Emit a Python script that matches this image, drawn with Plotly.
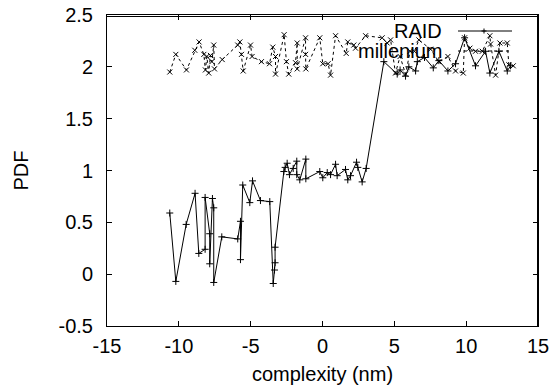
import plotly.graph_objects as go

# RAID series (solid line, + markers)
raid_x = [-10.63, -10.21, -9.49, -8.87, -8.61, -8.17, -8.17, -7.85, -7.85, -7.66, -7.57, -7.57,
          -7.01, -5.90, -5.71, -5.71, -5.55, -5.06, -4.87, -4.32, -3.67, -3.43, -3.34, -3.30, -3.30,
          -2.69, -2.60, -2.46, -2.30, -2.04, -1.79, -1.79, -1.58, -1.16, -1.16, -0.19, 0.02, 0.33,
          0.56, 0.91, 1.02, 1.60, 1.76, 1.95, 2.37, 2.46, 2.76, 3.04,
          4.27, 5.20, 5.40, 5.78, 6.01, 6.48, 6.60, 7.10, 7.71, 8.10, 8.73, 9.26, 9.89, 10.65,
          11.35, 11.65, 12.28, 12.86, 13.09]
raid_y = [0.59, -0.07, 0.48, 0.78, 0.20, 0.24, 0.74, 0.39, 0.10, 0.73, 0.64, -0.08,
          0.36, 0.34, 0.51, 0.14, 0.86, 0.69, 0.90, 0.71, 0.70, -0.09, 0.04, 0.11, 0.26,
          0.99, 1.03, 1.07, 0.96, 1.02, 1.09, 0.96, 0.91, 1.11, 0.92, 0.99, 0.93, 0.98,
          0.96, 1.06, 0.95, 1.01, 0.91, 0.95, 1.08, 1.03, 0.89, 1.02,
          2.05, 1.93, 1.97, 1.91, 2.00, 1.96, 2.05, 2.09, 1.99, 2.06, 1.96, 2.03, 2.28, 2.01,
          2.15, 1.94, 2.15, 1.96, 2.01]

# millenium series (dashed line, x markers)
mill_x = [-10.63, -10.21, -9.47, -8.89, -8.59, -8.26, -8.15, -8.05, -7.92, -7.80, -7.70, -7.57,
          -7.52, -6.98, -5.90, -5.75, -5.64, -5.52, -5.01, -4.90, -4.25, -3.69, -3.46, -3.27,
          -3.27, -2.67, -2.51, -2.35, -1.88, -1.76, -1.76, -1.18, -1.18, -1.16, -0.19, 0.02,
          0.39, 0.56, 0.91, 1.65, 1.76, 2.18, 2.30, 3.00, 4.15, 4.50, 4.74, 5.08, 5.40, 5.78,
          6.10, 6.40, 6.71, 7.52, 8.10, 8.73, 9.26, 9.80, 9.89, 10.26, 10.65, 11.12, 11.65,
          11.70, 12.05, 12.35, 12.86, 12.97, 13.28]
mill_y = [1.95, 2.12, 1.97, 2.16, 2.24, 2.12, 1.97, 2.10, 1.94, 2.11, 2.05, 2.21,
          1.98, 2.07, 2.21, 2.24, 2.12, 1.96, 2.21, 2.10, 2.05, 2.03, 2.19, 2.10,
          1.93, 2.31, 2.05, 1.93, 2.04, 2.23, 1.98, 2.28, 2.12, 1.98, 2.28, 2.03,
          2.03, 1.92, 2.30, 2.13, 2.24, 2.21, 2.18, 2.30, 2.28, 2.23, 2.26, 1.94, 2.10, 1.93,
          2.15, 2.15, 2.26, 2.17, 2.05, 2.10, 1.96, 1.94, 2.28, 2.18, 2.15, 2.15, 2.30,
          2.22, 1.92, 2.23, 2.23, 2.02, 2.01]

x_ticks = [-15, -10, -5, 0, 5, 10, 15]
y_ticks = [-0.5, 0, 0.5, 1, 1.5, 2, 2.5]
x_range = [-15, 15]
y_range = [-0.5, 2.5]
series_names = ["RAID", "millenium"]

FONT = "Liberation Sans, Arial, sans-serif"
FS = 20

fig = go.Figure()
fig.add_trace(go.Scatter(x=raid_x, y=raid_y, mode="lines+markers",
                         line=dict(color="black", width=1),
                         marker=dict(symbol="cross-thin", size=5, line=dict(color="black", width=1)),
                         showlegend=False))
fig.add_trace(go.Scatter(x=mill_x, y=mill_y, mode="lines+markers",
                         line=dict(color="black", width=1, dash="3px,3px"),
                         marker=dict(symbol="x-thin", size=5, line=dict(color="black", width=1)),
                         showlegend=False))

# plot area on screen: x 107..538, y 15..326
W, H, L, B = 431, 311, 107, 326
def px(xp):
    return (xp - L) / W
def py(yp):
    return (B - yp) / H

# top and right frame edges, drawn just inside the plot area
fig.add_shape(type="line", xref="paper", yref="paper", x0=0, x1=1, y0=py(16.5), y1=py(16.5),
              line=dict(color="black", width=1), layer="above")
fig.add_shape(type="line", xref="paper", yref="paper", x0=px(537.5), x1=px(537.5), y0=0, y1=1,
              line=dict(color="black", width=1), layer="above")

# gnuplot-style key: text on the left, sample on the right
key_y = [py(31), py(51)]
dashes = [None, "dash"]
for name, yy, dsh in zip(series_names, key_y, dashes):
    fig.add_annotation(x=px(444), y=yy, xref="paper", yref="paper", text=name,
                       showarrow=False, xanchor="right", yanchor="middle",
                       font=dict(family=FONT, size=FS, color="black"))
    ln = dict(color="black", width=1)
    if dsh:
        ln["dash"] = "3px,3px"
    fig.add_shape(type="line", xref="paper", yref="paper", x0=px(458), x1=px(512),
                  y0=yy, y1=yy, line=ln)
# small + on the RAID key sample
fig.add_shape(type="line", xref="paper", yref="paper", x0=px(481.5), x1=px(486.5),
              y0=key_y[0], y1=key_y[0], line=dict(color="black", width=1))
fig.add_shape(type="line", xref="paper", yref="paper", x0=px(484), x1=px(484),
              y0=key_y[0] - 2.5 / H, y1=key_y[0] + 2.5 / H, line=dict(color="black", width=1))

axis_common = dict(showgrid=False, zeroline=False, showline=True, linecolor="black", linewidth=1,
                   ticks="inside", ticklen=5, tickcolor="black", tickwidth=1,
                   automargin=False, ticklabeloverflow="allow", mirror="ticks",
                   tickfont=dict(family=FONT, size=FS, color="black"))
fig.update_layout(
    width=554, height=389,
    margin=dict(l=107, r=16, t=15, b=63, autoexpand=False),
    paper_bgcolor="white", plot_bgcolor="white",
    xaxis=dict(range=x_range, tickvals=x_ticks, ticktext=[str(v) for v in x_ticks],
               ticklabelstandoff=2,
               title=dict(text="complexity (nm)", font=dict(family=FONT, size=FS, color="black"), standoff=10),
               **axis_common),
    yaxis=dict(range=y_range, tickvals=y_ticks, ticktext=[f"{v:g}" for v in y_ticks],
               ticklabelstandoff=9,
               title=dict(text="PDF", font=dict(family=FONT, size=FS, color="black"), standoff=24),
               **axis_common),
)
fig.write_html("out.html", config={"displayModeBar": False},
               post_script="document.body.style.margin='0';")
